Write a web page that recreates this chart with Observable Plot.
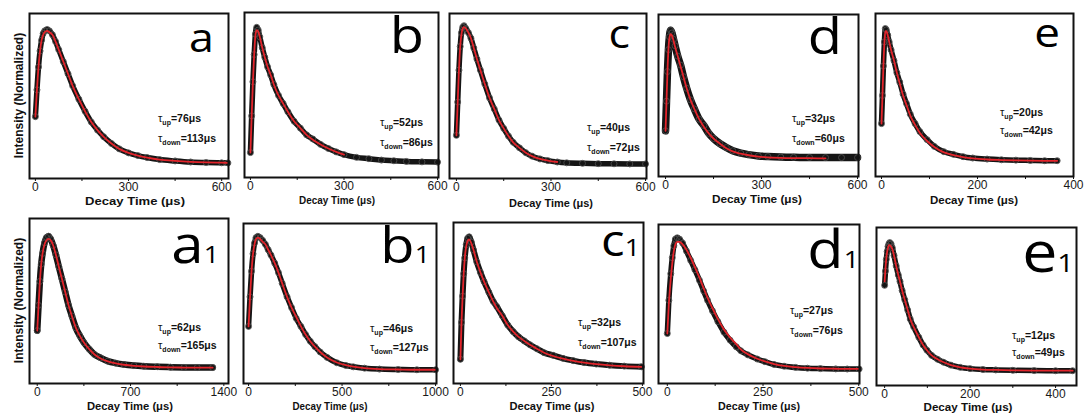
<!DOCTYPE html>
<html><head><meta charset="utf-8">
<script src="https://cdn.jsdelivr.net/npm/d3@7"></script>
<script src="https://cdn.jsdelivr.net/npm/@observablehq/plot@0.6"></script>
<style>
body{margin:0;background:#fff;}
#fig{position:relative;width:1086px;height:414px;overflow:hidden;background:#fff;}
</style></head><body><div id="fig"></div>
<script>
// ---------- data ----------
const tA   = [0,5,10,15,20,25,30,38,45,55,65,75,90,105,120,140,160,180,200,220,245,270,300,330,360,400,450,500,550,600,620];
const obsA = [0.35,0.55,0.72,0.84,0.92,0.97,0.99,1.00,0.99,0.96,0.91,0.85,0.76,0.67,0.58,0.48,0.39,0.31,0.25,0.20,0.15,0.11,0.08,0.06,0.045,0.03,0.02,0.012,0.008,0.006,0.005];
const fitA = [0.35,0.55,0.72,0.84,0.92,0.96,0.98,0.99,0.98,0.96,0.91,0.85,0.76,0.67,0.58,0.48,0.39,0.31,0.25,0.20,0.15,0.11,0.08,0.06,0.045,0.03,0.02,0.013,0.009,0.007,0.006];

const tB   = [0,4,8,12,16,20,25,30,38,46,55,65,75,90,105,120,140,160,180,200,225,250,275,300,340,380,420,460,500,550,600];
const obsB = [0.08,0.35,0.60,0.80,0.95,1.00,0.98,0.93,0.85,0.78,0.71,0.65,0.58,0.50,0.44,0.38,0.31,0.26,0.21,0.18,0.14,0.11,0.085,0.065,0.045,0.035,0.025,0.02,0.015,0.012,0.01];
const fitB = [0.08,0.35,0.60,0.80,0.94,0.98,0.97,0.93,0.85,0.78,0.71,0.65,0.58,0.50,0.44,0.38,0.31,0.26,0.21,0.175,0.14,0.11,0.085,0.065,null,null,null,null,null,null,null];

const tC   = [0,4,8,12,16,20,24,30,38,46,55,65,76,90,105,120,135,150,165,180,200,220,240,265,290,320,350,400,450,500,550,600];
const obsC = [0.21,0.45,0.68,0.85,0.95,0.99,1.00,0.98,0.95,0.91,0.84,0.76,0.68,0.58,0.48,0.40,0.32,0.26,0.205,0.16,0.12,0.085,0.06,0.04,0.028,0.018,0.012,0.008,0.006,0.005,0.004,0.004];
const fitC = [0.21,0.45,0.68,0.85,0.94,0.98,0.99,0.98,0.95,0.91,0.84,0.76,0.68,0.58,0.48,0.40,0.32,0.26,0.205,0.16,0.12,0.085,0.06,0.04,0.028,0.018,null,null,null,null,null,null];

const tD   = [0,3,6,9,12,16,20,25,30,38,47,56,66,78,90,105,120,135,150,170,190,210,235,260,290,320,360,400,450,500,550,600];
const obsD = [0.22,0.45,0.68,0.85,0.95,1.00,0.98,0.93,0.88,0.80,0.73,0.64,0.55,0.46,0.39,0.31,0.26,0.20,0.16,0.12,0.09,0.065,0.046,0.035,0.025,0.02,0.016,0.014,0.013,0.012,0.012,0.012];
const fitD = [0.22,0.45,0.68,0.85,0.94,0.97,0.96,0.92,0.87,0.80,0.72,0.64,0.55,0.46,0.39,0.31,0.25,0.20,0.16,0.12,0.085,0.06,0.042,0.03,0.02,0.014,0.01,0.008,0.007,0.006,null,null];

const tE   = [0,2,4,6,8,10,13,16,20,26,32,38,45,52,60,70,80,95,110,130,150,170,190,220,250,280,310,340,366];
const obsE = [0.29,0.50,0.72,0.90,1.00,0.99,0.95,0.90,0.84,0.76,0.67,0.60,0.51,0.44,0.36,0.29,0.23,0.17,0.12,0.08,0.06,0.043,0.033,0.025,0.02,0.017,0.015,0.013,0.013];
const fitE = [0.29,0.50,0.72,0.89,0.98,0.98,0.95,0.90,0.84,0.76,0.67,0.59,0.50,0.43,0.35,0.28,0.22,0.16,0.115,0.075,0.055,0.04,0.03,0.022,0.018,0.015,0.013,0.012,0.012];

const tA1   = [0,10,20,30,40,55,70,85,100,120,140,162,185,210,235,260,290,320,350,390,430,476,530,590,650,725,800,900,1000,1100,1200,1316];
const obsA1 = [0.29,0.48,0.66,0.79,0.87,0.95,0.99,1.00,0.98,0.93,0.86,0.77,0.68,0.58,0.48,0.40,0.31,0.25,0.20,0.15,0.11,0.085,0.06,0.045,0.035,0.027,0.022,0.018,0.015,0.013,0.012,0.012];
const fitA1 = [0.29,0.48,0.66,0.79,0.87,0.94,0.97,0.98,0.97,0.93,0.86,0.77,0.68,0.58,0.48,0.40,0.31,0.25,0.20,0.15,0.11,0.08,0.058,0.043,0.033,0.025,0.02,0.016,0.013,0.012,0.011,0.011];

const tB1   = [0,8,16,24,32,40,50,62,75,90,105,120,140,160,180,206,230,255,280,305,330,355,383,420,472,520,560,620,700,800,900,1000];
const obsB1 = [0.33,0.55,0.74,0.87,0.95,0.99,1.00,0.99,0.97,0.94,0.90,0.86,0.80,0.73,0.65,0.55,0.47,0.39,0.33,0.27,0.22,0.18,0.14,0.10,0.06,0.04,0.03,0.02,0.013,0.01,0.008,0.008];
const fitB1 = [0.33,0.55,0.74,0.87,0.94,0.98,0.99,0.98,0.96,0.94,0.90,0.86,0.80,0.73,0.65,0.55,0.47,0.40,0.33,0.27,0.22,0.18,0.14,0.10,0.062,0.042,0.031,0.02,0.013,0.01,0.008,0.008];

const tC1   = [0,3,6,9,12,16,20,24,30,36,45,55,65,78,90,100,115,130,145,160,175,191,210,230,255,282,310,340,373,410,450,497];
const obsC1 = [0.07,0.35,0.55,0.72,0.84,0.94,0.99,1.00,0.96,0.90,0.81,0.73,0.66,0.58,0.51,0.47,0.40,0.33,0.28,0.24,0.21,0.18,0.15,0.12,0.10,0.077,0.06,0.045,0.034,0.025,0.018,0.013];
const fitC1 = [0.07,0.35,0.55,0.72,0.84,0.93,0.97,0.98,0.95,0.90,0.81,0.73,0.66,0.58,0.51,0.46,0.40,0.33,0.28,0.24,0.21,0.18,0.15,0.12,0.095,0.075,0.058,0.044,0.033,0.024,0.017,0.012];

const tD1   = [0,4,9,13,17,21,26,32,40,50,61,72,84,95,105,118,132,148,164,180,192,210,235,255,279,305,335,366,400,440,470,501];
const obsD1 = [0.28,0.53,0.73,0.85,0.94,0.99,1.00,0.99,0.96,0.90,0.83,0.76,0.68,0.60,0.53,0.45,0.37,0.29,0.23,0.18,0.15,0.12,0.088,0.068,0.047,0.034,0.025,0.019,0.016,0.014,0.013,0.013];
const fitD1 = [0.28,0.50,0.69,0.81,0.90,0.95,0.97,0.97,0.95,0.91,0.85,0.78,0.70,0.62,0.55,0.47,0.39,0.31,0.25,0.20,0.16,0.125,0.09,0.07,0.05,0.036,0.027,0.021,0.017,0.015,0.014,0.014];

const tE1   = [0,2,4,6,8,10,12,15,18,22,27,32,36,41,47,54,60,68,80,90,99,110,124,138,155,177,200,230,260,300,350,400,440];
const obsE1 = [0.67,0.78,0.87,0.93,0.97,0.99,1.00,0.99,0.96,0.90,0.82,0.75,0.70,0.63,0.56,0.48,0.41,0.35,0.27,0.21,0.17,0.13,0.10,0.077,0.055,0.038,0.028,0.021,0.018,0.015,0.013,0.012,0.012];
const fitE1 = [0.70,0.80,0.88,0.93,0.96,0.98,0.98,0.97,0.95,0.90,0.82,0.75,0.70,0.63,0.56,0.48,0.41,0.35,0.27,0.21,0.17,0.13,0.10,0.077,0.055,0.038,0.028,0.021,0.018,0.015,0.013,0.012,0.012];

// tick labels
const ticksA = [0,300,600],  minorA = [150,450];
const ticksB = [0,300,600],  minorB = [150,450];
const ticksC = [0,300,600],  minorC = [150,450];
const ticksD = [0,300,600],  minorD = [150,450];
const ticksE = [0,200,400],  minorE = [100,300];
const ticksA1 = [0,700,1400], minorA1 = [350,1050];
const ticksB1 = [0,500,1000], minorB1 = [250,750];
const ticksC1 = [0,250,500],  minorC1 = [125,375];
const ticksD1 = [0,250,500],  minorD1 = [125,375];
const ticksE1 = [0,200,400],  minorE1 = [100,300];

// labels and fitted lifetimes
const letters  = ["a","b","c","d","e","a","b","c","d","e"];
const subs     = ["","","","","","1","1","1","1","1"];
const tauUp    = ["76","52","40","32","20","62","46","32","27","12"];
const tauDown  = ["113","86","72","60","42","165","127","107","76","49"];
const xTitle = "Decay Time (μs)";
const yTitle = "Intensity (Normalized)";

// ---------- layout (pixel placement only) ----------
const layout = [
 {t:tA,  o:obsA,  f:fitA,  tk:ticksA,  mn:minorA,  frame:[29,228,13,178],  xd:[-19,622],  yd:[-0.111,1.119], let:[214,52,40,0],  tau:[158,122,20], xl:[135,100,205], bw:5.5, ylab:true},
 {t:tB,  o:obsB,  f:fitB,  tk:ticksB,  mn:minorB,  frame:[244,438,12,177], xd:[-19,603],  yd:[-0.103,1.109], let:[424,53,50,0],  tau:[380,126,20], xl:[337,76,204], bw:5.5},
 {t:tC,  o:obsC,  f:fitC,  tk:ticksC,  mn:minorC,  frame:[449,646,13,178], xd:[-22,603],  yd:[-0.101,1.088], let:[630,48,40,0],  tau:[587,131,20], xl:[551,84,207], bw:5.5},
 {t:tD,  o:obsD,  f:fitD,  tk:ticksD,  mn:minorD,  frame:[658,858,14,176], xd:[-22,603],  yd:[-0.135,1.123], let:[842,54,50,0],  tau:[792,122,20], xl:[757,90,203], bw:7.5},
 {t:tE,  o:obsE,  f:fitE,  tk:ticksE,  mn:minorE,  frame:[875,1073,13,176],xd:[-12.5,400], yd:[-0.105,1.112], let:[1060,47,41,0], tau:[1000,116,18], xl:[974,88,204], bw:5.5},
 {t:tA1, o:obsA1, f:fitA1, tk:ticksA1, mn:minorA1, frame:[29,228,218,383], xd:[-58,1435], yd:[-0.108,1.133], let:[219,263,52,24], tau:[158,331,18], xl:[130,86,410], bw:6.5, ylab:true},
 {t:tB1, o:obsB1, f:fitB1, tk:ticksB1, mn:minorB1, frame:[243,436,223,383],xd:[-27,1005], yd:[-0.094,1.095], let:[430,263,50,24], tau:[370,332,19], xl:[330,75,410], bw:5.5},
 {t:tC1, o:obsC1, f:fitC1, tk:ticksC1, mn:minorC1, frame:[453,643,222,383],xd:[-19,503],  yd:[-0.114,1.109], let:[640,256,44,24], tau:[578,326,20], xl:[552,85,410], bw:6},
 {t:tD1, o:obsD1, f:fitD1, tk:ticksD1, mn:minorD1, frame:[658,859,224,383],xd:[-23,502],  yd:[-0.096,1.100], let:[859,268,53,24], tau:[790,314,20], xl:[759,82,410], bw:5.5},
 {t:tE1, o:obsE1, f:fitE1, tk:ticksE1, mn:minorE1, frame:[876,1076,227,385],xd:[-19,449], yd:[-0.102,1.116], let:[1074,272,56,26], tau:[1012,339,17], xl:[968,89,411], bw:5.5}
];

const FONT = "'Liberation Sans', Arial, sans-serif";
const fig = document.getElementById("fig");
const mL = 40, mR = 30, mT = 10, mB = 40;

layout.forEach((p, i) => {
  const W = p.frame[1] - p.frame[0], H = p.frame[3] - p.frame[2];
  const obsRows = p.t.map((x, k) => ({t: x, v: p.o[k]}));
  const fitRows = p.t.map((x, k) => ({t: x, v: p.f[k]}));
  const el = Plot.plot({
    width: W + mL + mR, height: H + mT + mB,
    marginLeft: mL, marginRight: mR, marginTop: mT, marginBottom: mB,
    x: {domain: p.xd, label: null},
    y: {domain: p.yd, axis: null},
    style: {background: "transparent", overflow: "visible", fontFamily: FONT, fontSize: "12px", color: "#1a1a1a"},
    marks: [
      Plot.line(obsRows, {x: "t", y: "v", stroke: "#151515", strokeWidth: p.bw, curve: "monotone-x"}),
      Plot.dot(obsRows, {x: "t", y: "v", r: 3, stroke: "#4a4a4a", strokeWidth: 0.9, fill: "none"}),
      Plot.line(fitRows, {x: "t", y: "v", stroke: "#e3242b", strokeWidth: 1.8, curve: "monotone-x"}),
      Plot.axisX({ticks: p.tk, tickSize: 3, tickPadding: 1, tickFormat: d => String(d), label: null, stroke: "#111"}),
      Plot.axisX({ticks: p.mn, tickSize: 3, tickFormat: () => "", label: null, stroke: "#111"}),
      Plot.frame({stroke: "#111", strokeWidth: 2})
    ]
  });
  const ox = p.frame[0] - mL, oy = p.frame[2] - mT;
  el.style.position = "absolute";
  el.style.left = ox + "px";
  el.style.top = oy + "px";
  fig.appendChild(el);

  const svg = d3.select(el);
  const g = svg.append("g").attr("font-family", FONT).attr("fill", "#111");

  // x title
  g.append("text")
    .attr("x", p.xl[0] - ox).attr("y", p.xl[2] - oy)
    .attr("text-anchor", "middle").attr("font-weight", "bold").attr("font-size", 11.5)
    .attr("textLength", p.xl[1]).attr("lengthAdjust", "spacingAndGlyphs")
    .text(xTitle);

  // y title
  if (p.ylab) {
    const cx = p.frame[0] - 10 - ox, cy = (p.frame[2] + p.frame[3]) / 2 - oy;
    g.append("text")
      .attr("transform", `translate(${cx},${cy}) rotate(-90)`)
      .attr("text-anchor", "middle").attr("dy", "0.35em")
      .attr("font-weight", "bold").attr("font-size", 12)
      .text(yTitle);
  }

  // panel letter
  const L = p.let;
  const lt = g.append("text")
    .attr("transform", `translate(${L[0] - ox},${L[1] - oy}) scale(1.12,1)`)
    .attr("text-anchor", "end")
    .attr("font-family", "'Open Sans', sans-serif")
    .attr("font-size", L[2]).attr("fill", "#000");
  lt.append("tspan").text(letters[i]);
  if (subs[i]) lt.append("tspan").attr("font-size", L[3]).text(subs[i]);

  // lifetimes
  const T = p.tau;
  const lines = [["up", tauUp[i]], ["down", tauDown[i]]];
  lines.forEach(([s, v], j) => {
    const tx = g.append("text")
      .attr("x", T[0] - ox).attr("y", T[1] + j * T[2] - oy)
      .attr("text-anchor", "start")
      .attr("font-weight", "bold").attr("font-size", 10.5);
    tx.append("tspan").attr("font-weight", "normal").attr("font-size", 11).text("τ");
    tx.append("tspan").attr("font-size", 7).attr("dy", 3).text(s);
    tx.append("tspan").attr("dy", -3).text("=" + v + "μs");
  });
});
</script>
</body></html>
